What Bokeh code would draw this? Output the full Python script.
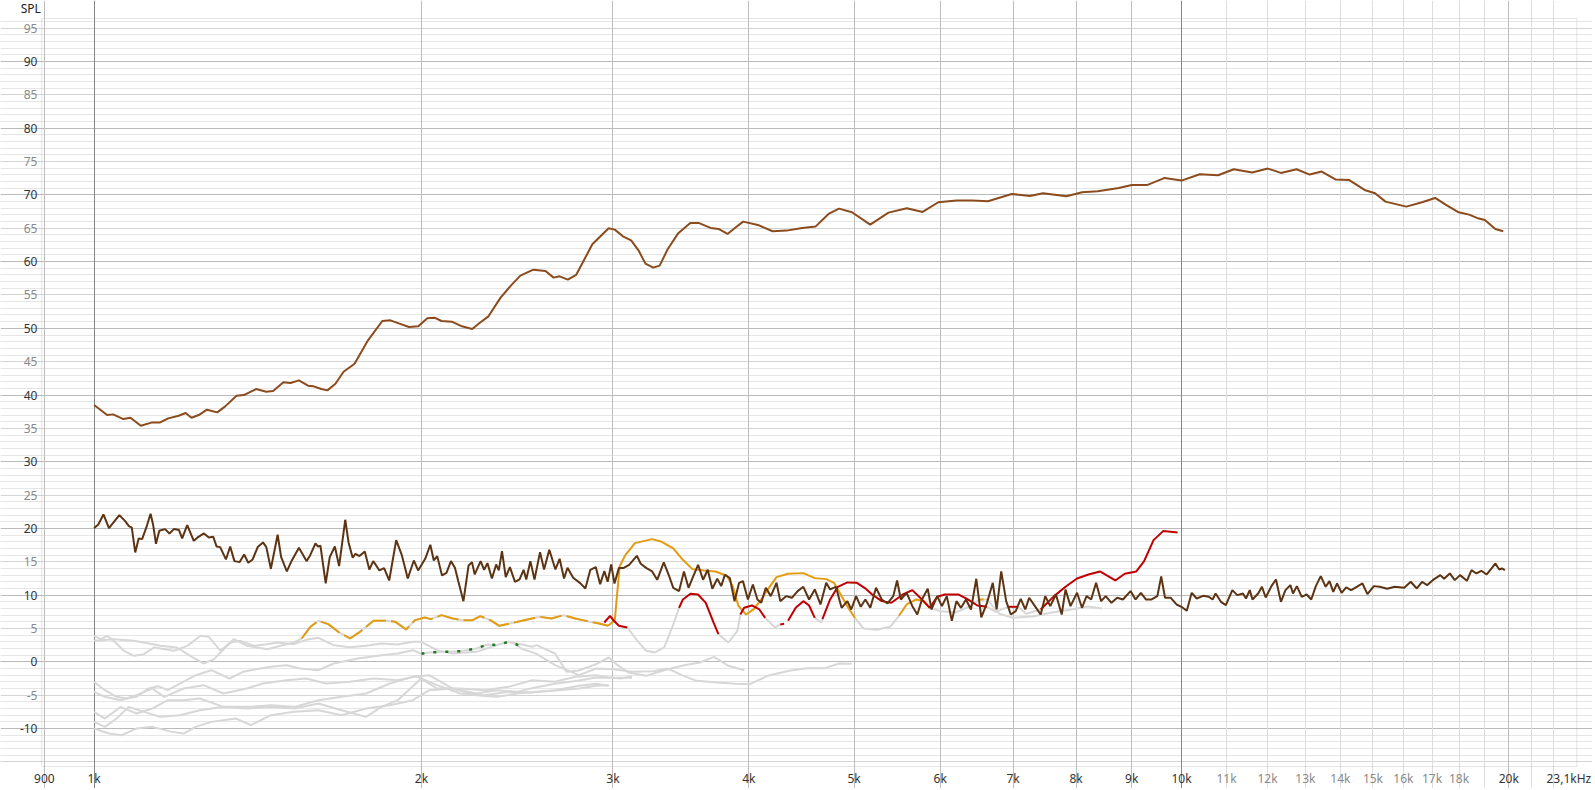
from bokeh.plotting import figure
from bokeh.models import Range1d, FixedTicker, Grid, ColumnDataSource, BoxAnnotation
from bokeh.core.properties import value, field
from bokeh.embed import file_html
from bokeh.resources import INLINE

# ---------------- data (frequency Hz, SPL dB) ----------------
upper_curve = [(1000,38.5),(1028,37.0),(1041,37.1),(1064,36.4),(1080,36.6),(1104,35.4),(1131,35.9),(1150,35.9),(1170,36.5),(1196,36.9),(1214,37.3),(1229,36.6),(1248,37.0),(1270,37.8),(1298,37.4),(1320,38.3),(1352,39.9),(1373,40.0),(1409,40.9),(1440,40.5),(1461,40.6),(1493,41.9),(1516,41.8),(1543,42.2),(1573,41.4),(1592,41.3),(1618,40.9),(1639,40.7),(1667,41.7),(1696,43.5),(1736,44.7),(1786,48.2),(1841,51.1),(1873,51.2),(1909,50.7),(1948,50.2),(1987,50.3),(2025,51.5),(2056,51.6),(2087,51.1),(2133,51.0),(2179,50.3),(2227,49.9),(2262,50.8),(2305,51.8),(2365,54.6),(2417,56.4),(2466,57.9),(2535,58.8),(2601,58.6),(2646,57.6),(2680,57.8),(2727,57.3),(2775,58.0),(2815,59.9),(2872,62.6),(2922,63.8),(2973,65.0),(3012,64.8),(3064,63.8),(3118,63.2),(3167,61.7),(3214,59.7),(3268,59.1),(3312,59.4),(3370,61.9),(3443,64.2),(3534,65.8),(3596,65.8),(3690,65.05),(3752,64.9),(3824,64.15),(3892,65.15),(3953,66.0),(4078,65.5),(4207,64.55),(4333,64.65),(4480,65.05),(4607,65.25),(4736,67.15),(4842,67.95),(4977,67.4),(5173,65.55),(5377,67.35),(5590,68.0),(5780,67.45),(5976,68.9),(6212,69.15),(6421,69.15),(6638,69.05),(6980,70.15),(7255,69.85),(7459,70.25),(7838,69.8),(8103,70.4),(8375,70.55),(8756,71.05),(9002,71.5),(9307,71.5),(9652,72.55),(10000,72.15),(10395,73.1),(10806,72.95),(11172,73.85),(11614,73.35),(12007,73.95),(12344,73.3),(12760,73.85),(13118,73.05),(13457,73.5),(13866,72.3),(14255,72.25),(14736,70.75),(15066,70.25),(15403,69.0),(16100,68.25),(16644,68.9),(17112,69.55),(17495,68.55),(17985,67.4),(18388,67.05),(18697,66.55),(19011,66.25),(19437,64.9),(19763,64.55)]

noisy_curve = [(1000,20.05),(1009,20.6),(1020,22.1),(1032,20.05),(1042,20.9),(1055,22.0),(1068,21.1),(1077,20.3),(1083,20.15),(1091,16.4),(1099,18.5),(1107,18.4),(1117,20.15),(1127,22.2),(1133,20.6),(1140,17.7),(1148,19.65),(1162,19.9),(1173,19.25),(1184,19.9),(1197,19.75),(1205,18.5),(1218,20.5),(1235,18.15),(1245,18.65),(1262,19.25),(1275,18.65),(1287,18.75),(1296,17.3),(1306,17.2),(1322,15.35),(1334,17.3),(1346,15.1),(1361,14.95),(1374,16.1),(1386,14.85),(1399,15.35),(1414,17.2),(1430,17.9),(1440,17.2),(1454,13.95),(1475,19.05),(1486,15.7),(1504,13.55),(1520,15.2),(1543,17.1),(1568,15.1),(1580,15.95),(1598,17.75),(1606,17.3),(1615,17.4),(1633,11.75),(1647,15.7),(1665,17.3),(1680,14.35),(1702,21.3),(1714,17.9),(1729,15.6),(1739,16.2),(1754,15.85),(1774,16.55),(1791,13.85),(1806,15.1),(1830,13.7),(1848,14.05),(1868,12.2),(1896,18.25),(1919,15.95),(1943,12.5),(1968,15.2),(1986,13.7),(2016,15.45),(2038,17.55),(2053,15.2),(2068,15.85),(2089,12.95),(2109,13.35),(2129,15.1),(2147,14.1),(2163,12.0),(2186,9.1),(2210,14.45),(2226,14.95),(2239,13.1),(2267,15.1),(2284,13.8),(2300,14.8),(2322,12.5),(2343,14.6),(2356,13.7),(2372,16.6),(2391,12.7),(2412,14.2),(2438,12.0),(2462,12.35),(2483,13.8),(2497,12.35),(2519,15.1),(2541,12.35),(2571,16.45),(2593,13.85),(2622,16.8),(2656,13.85),(2680,15.45),(2705,12.5),(2725,14.1),(2758,12.6),(2799,11.8),(2830,11.0),(2860,13.8),(2893,14.2),(2920,11.65),(2946,13.6),(2967,12.0),(2989,14.6),(3010,11.75),(3038,14.05),
 (3067,14.05),(3105,14.55),(3156,15.9),(3182,14.7),(3221,14.05),(3260,13.55),(3295,12.3),(3341,14.9),(3376,13.05),(3409,11.1),(3451,10.6),(3487,13.55),(3521,11.1),(3556,12.8),(3593,14.55),(3631,12.3),(3667,13.8),(3703,10.95),(3742,12.45),(3773,11.35),(3803,13.05),(3843,12.55),(3881,9.1),(3919,11.85),(3951,12.1),(3993,9.35),(4035,11.6),(4074,9.35),(4107,8.85),(4147,11.1),(4191,9.85),(4242,11.85),(4276,9.1),(4329,9.85),(4382,9.6),(4436,10.6),(4490,11.25),(4545,9.35),(4600,10.85),(4656,8.6),(4713,11.85),(4752,10.85),(4810,11.25),(4869,8.1),(4929,9.1),(4969,7.85),(5021,9.85),(5071,8.25),(5120,9.35),(5174,8.1),(5237,11.1),(5301,9.35),(5366,8.75),(5432,9.85),(5476,12.2),(5520,9.35),(5588,10.35),(5656,8.35),(5716,7.1),(5772,9.35),(5843,10.95),(5890,7.85),(5962,9.85),(6021,8.35),(6084,9.85),(6149,6.15),(6209,9.1),(6270,8.1),(6336,9.35),(6403,7.85),(6476,12.45),(6545,6.65),(6625,8.85),(6706,11.85),(6761,7.85),(6827,13.55),(6899,9.1),(6967,7.1),(7040,7.6),(7115,9.45),(7184,7.85),(7243,9.6),(7332,8.35),(7422,7.1),(7494,9.85),(7574,8.35),(7666,10.1),(7760,7.1),(7823,10.85),(7906,8.35),(8016,10.35),(8100,8.1),(8179,9.85),(8259,9.35),(8346,11.85),(8435,9.1),(8518,9.85),(8622,8.85),(8727,9.6),(8834,9.35),(8978,10.6),(9073,9.35),(9177,10.35),(9274,9.35),(9387,9.35),(9502,9.85),(9580,12.8),(9658,9.6),(9776,9.6),(9895,8.6),
 (10000,8.25),(10113,7.65),(10219,10.35),(10327,9.5),(10469,9.9),(10596,9.75),(10681,9.35),(10750,10.25),(10871,9.0),(10985,8.5),(11137,10.75),(11254,10.0),(11390,10.25),(11464,9.5),(11556,10.75),(11622,9.35),(11763,10.25),(11858,11.25),(11953,9.65),(12098,11.35),(12215,12.35),(12344,9.0),(12463,10.75),(12594,11.5),(12665,10.25),(12767,11.35),(12901,9.75),(13037,10.1),(13163,9.35),(13291,11.35),(13430,12.85),(13571,11.25),(13681,12.1),(13791,10.5),(13902,11.75),(14037,10.35),(14173,11.15),(14322,10.75),(14495,11.25),(14671,11.75),(14825,10.15),(15029,11.35),(15212,11.25),(15458,10.95),(15709,11.25),(16028,11.1),(16249,12.0),(16459,11.0),(16645,12.0),(16820,11.5),(17023,12.25),(17299,13.0),(17439,12.45),(17651,13.25),(17837,12.25),(18039,13.0),(18302,12.15),(18480,13.75),(18674,13.25),(18870,13.65),(19084,13.1),(19284,14.0),(19440,14.75),(19597,13.85),(19708,14.0),(19835,13.75)]

orange_low = [(1552,3.5),(1581,5.25),(1608,6.15),(1642,5.65),(1677,4.5),(1719,3.5),(1756,4.5),(1807,6.15),(1854,6.15),(1893,6.0),(1936,4.85),(1973,6.25),(2015,6.65),(2040,6.4),(2087,7.0),(2137,6.5),(2182,6.25),(2228,6.25),(2266,6.85),(2314,6.25),(2359,5.4),(2412,5.75),(2474,6.15),(2569,6.75),(2634,6.5),(2701,7.0),(2770,6.5),(2841,6.1),(2913,5.75),(2970,5.4)]
orange_high = [(2970,5.4),(3012,6.25),(3043,14.3),(3080,16.0),(3143,17.8),(3260,18.4),(3327,18.0),(3409,17.0),(3479,15.3),(3550,13.9),(3637,13.7),(3727,13.55),(3819,12.9),(3866,11.35),(3913,8.4),(3977,7.1),(4043,7.9),(4107,9.35),(4174,11.1),(4242,12.7),(4347,13.2),(4490,13.3),(4600,12.55),(4713,12.4),(4791,11.85),(4869,9.85),(4949,7.85),(5009,6.6)]
orange_mid = [(5498,6.9),(5588,8.6),(5703,9.35),(5796,9.1),(5868,8.1)]
orange_bit = [(6520,9.35),(6625,9.35)]

red_segments = [
    [(2946,5.9),(2982,6.9),(3006,6.15),(3038,5.4),(3093,5.15)],
    [(3451,8.1),(3479,9.35),(3536,10.2),(3593,10.1),(3652,8.85),(3712,5.9),(3751,4.15)],
    [(3929,7.1),(3961,8.1),(4026,8.45),(4091,7.85),(4141,6.6)],
    [(4276,5.6),(4311,5.7)],
    [(4347,6.15),(4418,8.1),(4490,9.1),(4545,8.45),(4600,6.6)],
    [(4675,6.4),(4752,9.35),(4830,11.25),(4929,11.9),(5029,11.85),(5111,11.1),(5195,10.1),(5301,9.1),(5410,8.85),(5543,10.1),(5656,10.75),(5772,9.35),(5868,8.1),(5962,9.75),(6060,10.1),(6233,10.1),(6361,9.35),(6491,8.45),(6625,8.25)],
    [(6928,8.25),(7070,8.25)],
    [(7422,7.85),(7635,9.85),(7823,11.25),(8016,12.5),(8213,13.1),(8415,13.55),(8692,12.2),(8868,13.2),(9088,13.55),(9237,15.05),(9426,18.25),(9618,19.6),(9776,19.5),(9919,19.4)],
]

gray_links = [
    [(3093,5.15),(3160,3.15),(3219,1.65),(3280,1.4),(3344,2.15),(3410,5.65),(3451,8.1)],
    [(3751,4.15),(3831,2.9),(3905,4.65),(3929,7.1)],
    [(4141,6.6),(4229,5.15),(4276,5.6)],
    [(4600,6.6),(4664,5.9),(4675,6.4)],
    [(6625,8.25),(6750,7.5),(6928,8.25)],
    [(7070,8.25),(7200,7.2),(7422,7.85)],
    [(5009,6.6),(5100,5.0),(5250,4.8),(5400,5.3),(5498,6.9)],
    [(5868,8.1),(6000,7.6),(6200,7.4),(6400,8.4),(6520,9.35)],
    [(6625,9.35),(6800,7.2),(7000,6.6),(7300,6.8),(7600,7.4),(7900,7.8),(8200,8.3),(8450,8.0)],
]

gray_a = [(1000,3.15),(1042,3.4),(1088,3.15),(1111,2.9),(1151,2.4),(1192,2.15),(1226,0.9),(1261,-0.25),(1289,0.4),(1335,2.9),(1364,3.15),(1403,2.4),(1443,2.65),(1474,2.9),(1527,2.65),(1567,3.3),(1608,3.6),(1661,2.5),(1719,2.2),(1779,2.4),(1838,2.75),(1902,2.6),(1964,3.0),(1999,3.0),(2067,1.75),(2137,1.25),(2247,1.5),(2346,2.5),(2405,3.0),(2447,2.8),(2528,2.25),(2552,2.5),(2654,1.25),(2720,-1.5),(2790,-1.3),(2896,-0.35),(2974,0.65),(3030,-0.5),(3100,-1.6),(3219,-2.1),(3344,-1.25),(3472,-0.6),(3606,-0.1),(3717,0.75),(3831,-0.6),(3963,-1.25)]
gray_b = [(1000,3.9),(1014,3.4),(1028,3.9),(1042,3.15),(1065,1.65),(1088,0.9),(1111,1.15),(1135,2.15),(1184,1.65),(1218,2.4),(1253,3.9),(1275,3.75),(1307,1.65),(1344,3.4),(1383,2.4),(1443,1.9),(1484,2.4),(1527,2.9),(1552,3.5)]
gray_c = [(1000,-3.0),(1023,-4.25),(1049,-5.25),(1071,-5.5),(1094,-5.25),(1122,-4.0),(1145,-3.65),(1169,-4.25),(1199,-3.25),(1240,-2.0),(1282,-1.25),(1332,-2.5),(1371,-1.5),(1405,-1.15),(1454,-0.75),(1503,-0.5),(1548,-1.0),(1608,-1.25),(1661,-0.25),(1748,0.5),(1838,1.0),(1902,1.25),(1964,1.75),(2000,1.2),(2033,1.4),(2100,1.5),(2172,1.6),(2247,2.0),(2300,2.6),(2346,2.5),(2405,3.0),(2447,2.6),(2470,2.0),(2552,1.2),(2654,-0.5),(2792,-2.0),(2896,-1.0),(3008,-1.1),(3123,-1.5),(3268,-1.4),(3369,-1.0),(3472,-2.0),(3579,-2.85),(3745,-3.1),(3889,-3.3),(4009,-3.35),(4163,-2.1),(4357,-1.35),(4524,-0.95),(4699,-0.95),(4844,-0.25),(4974,-0.3)]
gray_d = [(1000,-4.5),(1023,-5.25),(1058,-5.75),(1094,-5.0),(1131,-4.0),(1160,-5.25),(1209,-4.0),(1261,-3.5),(1315,-4.75),(1382,-4.0),(1429,-3.25),(1503,-2.75),(1567,-2.5),(1634,-3.25),(1719,-3.0),(1807,-2.5),(1902,-2.75),(1980,-2.15),(2067,-4.0),(2172,-4.0),(2286,-4.25),(2405,-3.75),(2528,-2.75),(2654,-3.0),(2771,-2.25),(2896,-2.0),(2974,-2.35),(3050,-2.5),(3123,-2.2)]
gray_e = [(1000,-7.5),(1023,-8.5),(1058,-6.75),(1094,-7.75),(1131,-7.0),(1169,-5.75),(1209,-5.75),(1251,-5.5),(1315,-6.75),(1394,-6.75),(1454,-6.5),(1528,-6.75),(1608,-5.75),(1689,-5.25),(1779,-4.75),(1870,-3.25),(1964,-2.25),(2033,-2.0),(2137,-4.0),(2247,-4.75),(2346,-4.25),(2447,-4.5),(2552,-3.8),(2654,-3.3),(2792,-2.8),(2896,-2.35),(3008,-2.4),(3123,-2.4)]
gray_f = [(1000,-9.0),(1023,-9.75),(1049,-8.5),(1076,-6.75),(1112,-7.5),(1150,-8.25),(1199,-8.0),(1251,-7.25),(1315,-6.75),(1382,-7.0),(1454,-6.75),(1528,-7.0),(1608,-6.25),(1689,-7.25),(1779,-8.25),(1838,-6.75),(1902,-5.75),(1999,-2.5),(2067,-3.5),(2172,-4.75),(2286,-5.0),(2405,-4.5),(2528,-4.6),(2654,-4.25),(2792,-3.6),(2896,-3.3),(2974,-3.6)]
gray_g = [(1000,-10.0),(1032,-10.75),(1060,-11.0),(1094,-10.0),(1131,-9.75),(1179,-10.5),(1209,-10.75),(1240,-9.75),(1282,-9.0),(1350,-8.5),(1394,-9.5),(1454,-8.0),(1528,-7.5),(1608,-7.25),(1689,-8.0),(1779,-7.0),(1870,-6.5),(1964,-5.75),(2033,-4.25),(2137,-4.0),(2247,-5.0),(2346,-5.25),(2447,-4.75),(2552,-4.5),(2654,-4.3),(2792,-4.0),(2896,-3.6),(2974,-3.5)]

green_band = (2000, 2470)   # part of gray_c shown in green

y_tick_values = list(range(-10, 96, 5))
x_tick_values = [900, 1000, 2000, 3000, 4000, 5000, 6000, 7000, 8000, 9000, 10000,
                 11000, 12000, 13000, 14000, 15000, 16000, 17000, 18000, 20000]
x_tick_labels = ["900", "1k", "2k", "3k", "4k", "5k", "6k", "7k", "8k", "9k", "10k",
                 "11k", "12k", "13k", "14k", "15k", "16k", "17k", "18k", "20k"]
x_end_value = 23100
x_end_label = "23,1kHz"
axis_title = "SPL"

# plotting area (data units) and the canvas around it
X_LO, X_HI = 895, 23100
Y_LO, Y_HI = -15.7, 96.45

# ---------------- styling ----------------
C_UPPER = "#8b4b1d"
C_NOISY = "#5c3413"
C_ORANGE = "#e39b10"
C_RED = "#c00000"
C_GRAY = "#d7d7d7"
C_GREEN = "#1f7a1f"
DARK_TXT = "#333333"
GRAY_TXT = "#8a8a8a"
FONT = "Noto Sans"
FS = "12px"

def xs(pts):
    return [q[0] for q in pts]

def ys(pts):
    return [q[1] for q in pts]

p = figure(width=1592, height=788, x_axis_type="log",
           x_range=Range1d(820.2, 23878), y_range=Range1d(-18.99, 99.15),
           x_axis_location=None, y_axis_location=None,
           toolbar_location=None, output_backend="svg",
           min_border_left=0, min_border_right=0, min_border_top=0, min_border_bottom=0)
p.outline_line_color = None
p.background_fill_color = "white"
p.border_fill_color = "white"

def add_grid(dim, ticks, color):
    bounds = (Y_LO, Y_HI) if dim == 0 else (X_LO, X_HI)
    p.add_layout(Grid(dimension=dim, ticker=FixedTicker(ticks=ticks), bounds=bounds,
                      grid_line_color=color, grid_line_width=1))

ymin, ymax = -15, 96
add_grid(1, [v for v in range(ymin, ymax + 1) if v % 5 != 0], "#e6e6e6")
add_grid(1, [v for v in range(ymin, ymax + 1) if v % 5 == 0 and v % 10 != 0], "#d4d4d4")
add_grid(1, [v for v in range(ymin, ymax + 1) if v % 10 == 0], "#bababa")
add_grid(0, [k * 1000 for k in range(11, 23) if k != 20], "#dddddd")
add_grid(0, [900] + [k * 1000 for k in range(2, 10)] + [20000], "#bdbdbd")
add_grid(0, [1000, 10000], "#858585")

# plot-area border
p.add_layout(BoxAnnotation(left=X_LO, right=X_HI, bottom=Y_LO, top=Y_HI,
                           fill_alpha=0, line_color="#a6a6a6", line_width=1, level="underlay"))

W = 2
# gray background curves
for g in [gray_a, gray_b, gray_c, gray_d, gray_e, gray_f, gray_g] + gray_links:
    p.line(xs(g), ys(g), line_color=C_GRAY, line_width=W)
p.line(xs(orange_low), ys(orange_low), line_color=C_GRAY, line_width=W)
p.line(xs(orange_bit), ys(orange_bit), line_color=C_GRAY, line_width=W)

# green dotted portion
green_pts = [q for q in gray_c if green_band[0] <= q[0] <= green_band[1]]
p.line(xs(green_pts), ys(green_pts), line_color=C_GREEN, line_width=2.5, line_dash="3 9")

# orange
p.line(xs(orange_low), ys(orange_low), line_color=C_ORANGE, line_width=W, line_dash="22 5")
p.line(xs(orange_high), ys(orange_high), line_color=C_ORANGE, line_width=W)
p.line(xs(orange_mid), ys(orange_mid), line_color=C_ORANGE, line_width=W)
p.line(xs(orange_bit), ys(orange_bit), line_color=C_ORANGE, line_width=W, line_dash="4 3")

# red
for seg in red_segments:
    p.line(xs(seg), ys(seg), line_color=C_RED, line_width=W)

# browns
p.line(xs(noisy_curve), ys(noisy_curve), line_color=C_NOISY, line_width=W)
p.line(xs(upper_curve), ys(upper_curve), line_color=C_UPPER, line_width=W)

# ---------------- tick labels (text glyphs through the scales) ----------------
y_label_x = 887.0
ysrc = ColumnDataSource(dict(
    x=[y_label_x] * len(y_tick_values),
    y=y_tick_values,
    t=[str(v) for v in y_tick_values],
    c=[DARK_TXT if v % 10 == 0 else GRAY_TXT for v in y_tick_values],
))
p.text(x="x", y="y", text="t", source=ysrc, text_color=field("c"),
       text_font=value(FONT), text_font_size=value(FS),
       text_align="right", text_baseline="middle")

x_label_y = -17.45
xsrc = ColumnDataSource(dict(
    x=x_tick_values,
    y=[x_label_y] * len(x_tick_values),
    t=x_tick_labels,
    c=[GRAY_TXT if 11000 <= v <= 18000 else DARK_TXT for v in x_tick_values],
))
p.text(x="x", y="y", text="t", source=xsrc, text_color=field("c"),
       text_font=value(FONT), text_font_size=value(FS),
       text_align="center", text_baseline="middle")
p.text(x=[x_end_value], y=[x_label_y], text=[x_end_label], text_color=DARK_TXT,
       text_font=value(FONT), text_font_size=value(FS),
       text_align="center", text_baseline="middle", x_offset=-8)

p.text(x=[856], y=[97.95], text=[axis_title], text_color="#222222",
       text_font=value(FONT), text_font_size=value(FS),
       text_align="left", text_baseline="middle")

open("out.html", "w").write(file_html(p, INLINE))
